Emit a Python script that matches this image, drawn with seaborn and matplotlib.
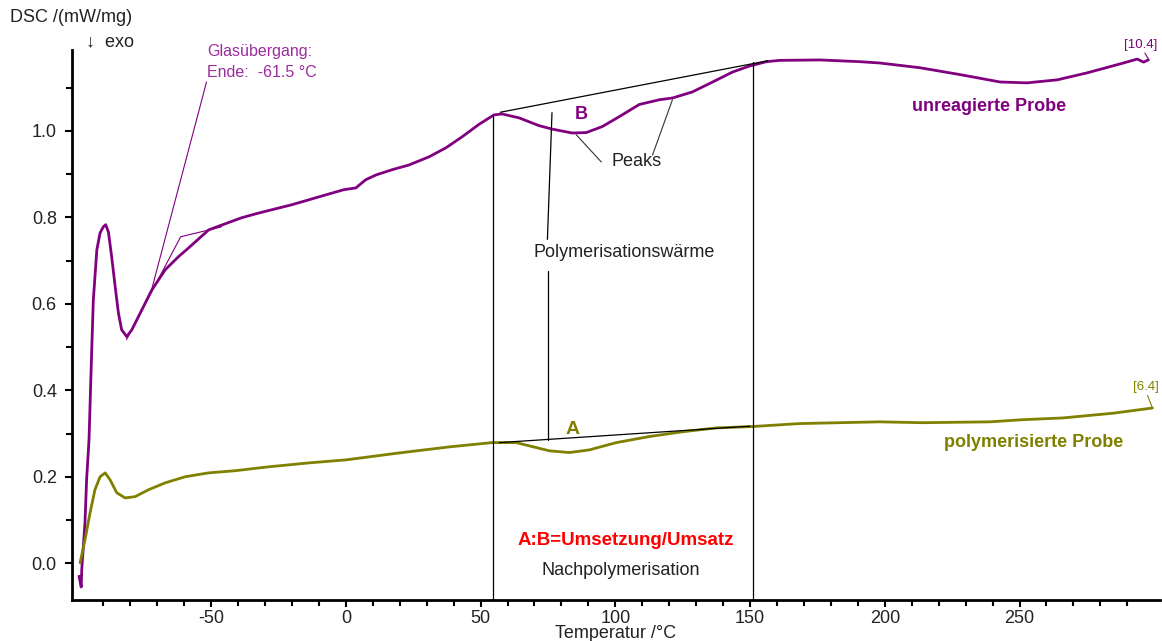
import numpy as np
import pandas as pd
import matplotlib
matplotlib.use("Agg")
import matplotlib.pyplot as plt
import seaborn as sns

# DSC curve of the unreacted sample (temperature in °C, DSC in mW/mg)
temp_unreacted = [-99, -98.2, -98.0, -96.8, -96.2, -95.3, -94.3, -93.7, -92.4, -91.2,
                  -90.0, -89.1, -88.1, -86.9, -85.6, -84.4, -83.2, -81.3, -79.4, -75.7,
                  -72.0, -67.0, -62.1, -58.4, -50.9, -38.7, -32.3, -20.1, -7.4, -0.7,
                  3.7, 7.4, 11.2, 17.1, 23.4, 30.9, 37.2, 43.1, 49.4, 55.0,
                  58.0, 64.3, 71.7, 76.6, 84.0, 89.2, 95.2, 101.5, 108.9, 116.4,
                  121.2, 128.6, 136.1, 143.5, 149.8, 156.1, 161, 175.8, 190.7, 198,
                  213, 228, 242.8, 252.8, 264, 275, 287.4, 293.7, 296, 297.8]
dsc_unreacted = [-0.03, -0.055, -0.015, 0.094, 0.193, 0.286, 0.493, 0.609, 0.725, 0.764,
                 0.778, 0.783, 0.766, 0.709, 0.640, 0.579, 0.540, 0.524, 0.540, 0.586,
                 0.632, 0.679, 0.709, 0.729, 0.771, 0.799, 0.810, 0.829, 0.852, 0.864,
                 0.868, 0.887, 0.898, 0.910, 0.921, 0.940, 0.961, 0.986, 1.015, 1.037,
                 1.039, 1.030, 1.012, 1.004, 0.995, 0.996, 1.010, 1.033, 1.061, 1.072,
                 1.076, 1.090, 1.113, 1.136, 1.150, 1.160, 1.163, 1.164, 1.160, 1.157,
                 1.146, 1.130, 1.113, 1.111, 1.118, 1.134, 1.155, 1.166, 1.159, 1.164]

# DSC curve of the polymerised sample
temp_polymerised = [-98.6, -96.8, -94.9, -93.1, -91.2, -89.3, -87.5, -85.0, -81.9, -78.2,
                    -73.2, -67.0, -59.6, -50.9, -41.0, -28.6, -13.8, 0, 19.7, 38.3,
                    54.3, 63.2, 69.0, 75.5, 82.9, 90.3, 95.0, 100.4, 112.6, 124.9,
                    137.5, 150.6, 168.4, 198, 214, 239, 251.3, 266, 284.8, 299.3]
dsc_polymerised = [0.001, 0.054, 0.117, 0.170, 0.200, 0.209, 0.193, 0.163, 0.151, 0.154,
                   0.170, 0.186, 0.200, 0.209, 0.214, 0.223, 0.232, 0.239, 0.255, 0.269,
                   0.279, 0.279, 0.270, 0.260, 0.256, 0.262, 0.270, 0.279, 0.293, 0.304,
                   0.313, 0.316, 0.323, 0.327, 0.325, 0.327, 0.332, 0.336, 0.347, 0.359]

samples = ["unreagierte Probe", "polymerisierte Probe"]
x_ticks = [-50, 0, 50, 100, 150, 200, 250]
y_ticks = [0.0, 0.2, 0.4, 0.6, 0.8, 1.0]

# Evaluation constructions (temperature, DSC)
glass_tangent = ([-81.4, -61.3, -46.1], [0.517, 0.755, 0.778])
glass_leader = ([-51.7, -72.1], [1.113, 0.632])
baseline_B = ([57.3, 156.5], [1.043, 1.162])
baseline_A = ([57.0, 150.0], [0.279, 0.317])
integration_limits = [54.6, 151.0]
peak_leaders = [([85.5, 94.8], [0.991, 0.928]), ([113.8, 121.2], [0.944, 1.072])]

PURPLE = "#800080"
OLIVE = "#808000"
LABEL_PURPLE = "#9c2c9c"
TEXT = "#222222"

sns.set_style("white")
plt.rcParams["font.family"] = ["Liberation Sans", "DejaVu Sans"]
plt.rcParams["axes.unicode_minus"] = False

df = pd.concat([
    pd.DataFrame({"T": temp_unreacted, "DSC": dsc_unreacted, "Probe": samples[0]}),
    pd.DataFrame({"T": temp_polymerised, "DSC": dsc_polymerised, "Probe": samples[1]}),
])

fig = plt.figure(figsize=(11.62, 6.41), dpi=100)
ax = fig.add_axes([0.062, 0.064, 0.936, 0.858])

sns.lineplot(data=df, x="T", y="DSC", hue="Probe", palette=[PURPLE, OLIVE],
             sort=False, estimator=None, linewidth=2.0, legend=False, ax=ax)

xmin, xmax = -101.6, 302
ymin, ymax = -0.085, 1.187
ax.set_xlim(xmin, xmax)
ax.set_ylim(ymin, ymax)

# thin construction lines
ax.plot(*glass_tangent, color=PURPLE, lw=0.8)
ax.plot(*glass_leader, color=PURPLE, lw=0.8)
ax.plot(*baseline_B, color="black", lw=0.9)
ax.plot(*baseline_A, color="black", lw=0.9)
ax.plot([integration_limits[0]] * 2, [1.035, ymin], color="black", lw=0.9)
ax.plot([integration_limits[1]] * 2, [1.160, ymin], color="black", lw=0.9)
ax.plot([76.5, 74.8], [1.042, 0.749], color="black", lw=0.9)
ax.plot([75.2, 75.2], [0.675, 0.285], color="black", lw=0.9)
for xs, ys in peak_leaders:
    ax.plot(xs, ys, color="#333333", lw=0.8)
ax.plot([296.5, 297.8], [1.18, 1.166], color=PURPLE, lw=0.8)
ax.plot([297.5, 299.3], [0.388, 0.359], color=OLIVE, lw=0.8)

# axes styling
for side in ["top", "right"]:
    ax.spines[side].set_visible(False)
for side in ["left", "bottom"]:
    ax.spines[side].set_linewidth(2)
    ax.spines[side].set_color("black")
ax.set_xticks(x_ticks)
ax.set_xticklabels([str(v) for v in x_ticks])
ax.set_yticks(y_ticks)
ax.set_yticklabels([f"{v:.1f}" for v in y_ticks])
ax.set_xticks(np.arange(-90, 300, 10), minor=True)
ax.set_yticks(np.arange(0.1, 1.15, 0.2), minor=True)
ax.tick_params(which="both", direction="out", color="black", width=1.5,
               labelsize=13, labelcolor=TEXT, bottom=True, left=True)
ax.tick_params(which="major", length=5)
ax.tick_params(which="minor", length=4)
ax.tick_params(axis="x", which="major", pad=2)
ax.tick_params(axis="y", which="major", pad=6)
ax.set_xlabel("Temperatur /°C", fontsize=13, color=TEXT, labelpad=-1)
ax.set_ylabel("")

# texts
fig.text(0.009, 0.972, "DSC /(mW/mg)", fontsize=13, color=TEXT, va="center")
fig.text(0.074, 0.934, "↓  exo", fontsize=13, color=TEXT, va="center")
ax.text(-51.5, 1.183, "Glasübergang:", fontsize=11.5, color=LABEL_PURPLE, va="center")
ax.text(-51.5, 1.136, "Ende:  -61.5 °C", fontsize=11.5, color=LABEL_PURPLE, va="center")
ax.text(87.5, 1.037, "B", fontsize=13, color=PURPLE, fontweight="bold", ha="center", va="center")
ax.text(107.8, 0.928, "Peaks", fontsize=13, color=TEXT, ha="center", va="center")
ax.text(103.3, 0.718, "Polymerisationswärme", fontsize=13, color=TEXT, ha="center", va="center")
ax.text(238.7, 1.056, "unreagierte Probe", fontsize=13, color=PURPLE, fontweight="bold",
        ha="center", va="center")
ax.text(255.4, 0.279, "polymerisierte Probe", fontsize=13, color=OLIVE, fontweight="bold",
        ha="center", va="center")
ax.text(295, 1.199, "[10.4]", fontsize=9.5, color=PURPLE, ha="center", va="center")
ax.text(297, 0.407, "[6.4]", fontsize=9.5, color=OLIVE, ha="center", va="center")
ax.text(84, 0.309, "A", fontsize=14, color=OLIVE, fontweight="bold", ha="center", va="center")
ax.text(104, 0.052, "A:B=Umsetzung/Umsatz", fontsize=13.5, color="#ff0000", fontweight="bold",
        ha="center", va="center")
ax.text(101.9, -0.017, "Nachpolymerisation", fontsize=13, color=TEXT, ha="center", va="center")

fig.savefig("out.png", dpi=100, facecolor="white")
